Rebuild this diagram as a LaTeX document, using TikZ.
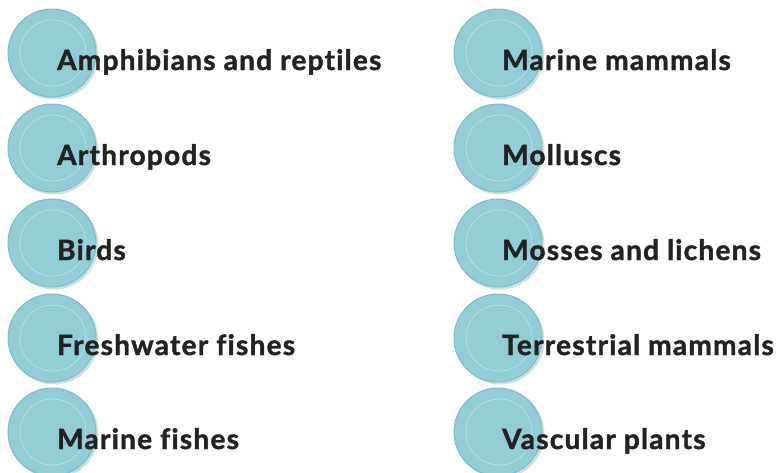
\documentclass[tikz,border=0pt]{standalone}
\usepackage{fontspec}
\setmainfont[LetterSpace=4.5,Ligatures=NoCommon,FakeBold=1.5]{Lato}
\definecolor{disc}{RGB}{146,205,214}
\definecolor{discedge}{RGB}{110,170,180}
\definecolor{txt}{RGB}{34,34,34}
\tikzset{
  disc/.style={circle, minimum size=88pt, inner sep=0pt, fill=disc,
    draw=discedge!50!disc, line width=1pt},
  ring/.style={circle, minimum size=66pt, inner sep=0pt, draw=white, opacity=0.6, line width=0.4pt},
  shade/.style={circle, minimum size=89pt, inner sep=0pt, fill=discedge!70, opacity=0.5},
  label/.style={anchor=base west, inner sep=0pt, text=txt, font=\fontsize{28}{32}\selectfont\bfseries}
}
\begin{document}
\begin{tikzpicture}[x=1pt,y=-1pt]
\useasboundingbox (0,0) rectangle (777,472);
\foreach \i/\y/\ltext/\rtext in {1/53/Amphibians and reptiles/Marine mammals,
  2/148/Arthropods/Molluscs, 3/243/Birds/Mosses and lichens,
  4/338/Freshwater fishes/Terrestrial mammals, 5/432/Marine fishes/Vascular plants}{
  \node[shade] (ls\i) at (54,\y+2) {};
  \node[disc] (lc\i) at (52,\y) {};
  \node[ring] (lr\i) at (53,\y) {};
  \node[label] (lt\i) at (57,\y+17) {\ltext};
  \node[shade] (rs\i) at (500,\y+2) {};
  \node[disc] (rc\i) at (498,\y) {};
  \node[ring] (rr\i) at (499,\y) {};
  \node[label] (rt\i) at (502,\y+17) {\rtext};
}
\end{tikzpicture}
\end{document}
